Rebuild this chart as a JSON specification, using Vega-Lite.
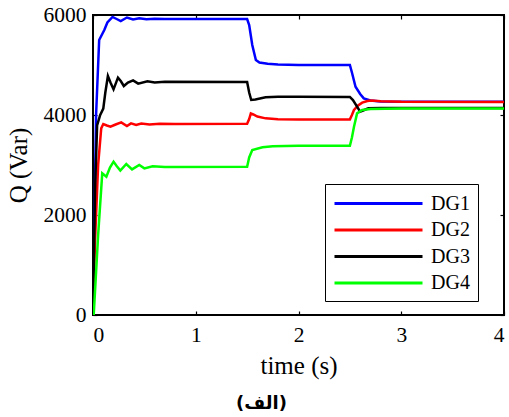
{
  "$schema": "https://vega.github.io/schema/vega-lite/v6.json",
  "width": 411,
  "height": 300,
  "autosize": {"type": "none"},
  "padding": {"left": 93, "top": 15, "right": 5, "bottom": 102},
  "background": "white",
  "config": {
    "view": {"stroke": "black", "strokeWidth": 2},
    "font": "Liberation Serif",
    "axis": {
      "grid": false,
      "domain": false,
      "tickColor": "black",
      "tickWidth": 1.2,
      "tickSize": -4,
      "labelFont": "Liberation Serif",
      "labelFontSize": 21.5,
      "labelColor": "black",
      "format": "d",
      "titleFont": "Liberation Serif",
      "titleFontSize": 25,
      "titleFontWeight": "normal",
      "titleColor": "black"
    }
  },
  "title": {
    "text": "(الف)",
    "orient": "bottom",
    "anchor": "middle",
    "frame": "group",
    "dx": -37,
    "offset": 16,
    "font": "DejaVu Sans",
    "fontSize": 18,
    "fontWeight": "bold",
    "color": "black"
  },
  "data": {
    "values": [
      {"t": 0, "q": 0, "s": "DG1"},
      {"t": 0.03, "q": 4000, "s": "DG1"},
      {"t": 0.06, "q": 5500, "s": "DG1"},
      {"t": 0.09, "q": 5620, "s": "DG1"},
      {"t": 0.11, "q": 5700, "s": "DG1"},
      {"t": 0.14, "q": 5850, "s": "DG1"},
      {"t": 0.19, "q": 5960, "s": "DG1"},
      {"t": 0.23, "q": 5920, "s": "DG1"},
      {"t": 0.27, "q": 5880, "s": "DG1"},
      {"t": 0.33, "q": 5950, "s": "DG1"},
      {"t": 0.39, "q": 5910, "s": "DG1"},
      {"t": 0.45, "q": 5935, "s": "DG1"},
      {"t": 0.52, "q": 5915, "s": "DG1"},
      {"t": 0.6, "q": 5925, "s": "DG1"},
      {"t": 0.7, "q": 5918, "s": "DG1"},
      {"t": 1.5, "q": 5920, "s": "DG1"},
      {"t": 1.52, "q": 5800, "s": "DG1"},
      {"t": 1.55, "q": 5400, "s": "DG1"},
      {"t": 1.585, "q": 5100, "s": "DG1"},
      {"t": 1.62, "q": 5050, "s": "DG1"},
      {"t": 1.7, "q": 5025, "s": "DG1"},
      {"t": 1.8, "q": 5010, "s": "DG1"},
      {"t": 2.0, "q": 5000, "s": "DG1"},
      {"t": 2.5, "q": 5000, "s": "DG1"},
      {"t": 2.52, "q": 4850, "s": "DG1"},
      {"t": 2.555, "q": 4566, "s": "DG1"},
      {"t": 2.6, "q": 4420, "s": "DG1"},
      {"t": 2.635, "q": 4333, "s": "DG1"},
      {"t": 2.7, "q": 4290, "s": "DG1"},
      {"t": 2.8, "q": 4270, "s": "DG1"},
      {"t": 3.0, "q": 4265, "s": "DG1"},
      {"t": 4.0, "q": 4265, "s": "DG1"},

      {"t": 0, "q": 0, "s": "DG2"},
      {"t": 0.02, "q": 1500, "s": "DG2"},
      {"t": 0.05, "q": 3000, "s": "DG2"},
      {"t": 0.08, "q": 3733, "s": "DG2"},
      {"t": 0.1, "q": 3820, "s": "DG2"},
      {"t": 0.135, "q": 3790, "s": "DG2"},
      {"t": 0.17, "q": 3767, "s": "DG2"},
      {"t": 0.22, "q": 3810, "s": "DG2"},
      {"t": 0.275, "q": 3853, "s": "DG2"},
      {"t": 0.33, "q": 3780, "s": "DG2"},
      {"t": 0.37, "q": 3833, "s": "DG2"},
      {"t": 0.42, "q": 3800, "s": "DG2"},
      {"t": 0.47, "q": 3830, "s": "DG2"},
      {"t": 0.55, "q": 3812, "s": "DG2"},
      {"t": 0.65, "q": 3825, "s": "DG2"},
      {"t": 0.8, "q": 3820, "s": "DG2"},
      {"t": 1.5, "q": 3825, "s": "DG2"},
      {"t": 1.52, "q": 3920, "s": "DG2"},
      {"t": 1.536, "q": 4030, "s": "DG2"},
      {"t": 1.56, "q": 4010, "s": "DG2"},
      {"t": 1.6, "q": 3970, "s": "DG2"},
      {"t": 1.68, "q": 3933, "s": "DG2"},
      {"t": 1.8, "q": 3915, "s": "DG2"},
      {"t": 2.0, "q": 3912, "s": "DG2"},
      {"t": 2.5, "q": 3912, "s": "DG2"},
      {"t": 2.52, "q": 4000, "s": "DG2"},
      {"t": 2.54, "q": 4100, "s": "DG2"},
      {"t": 2.58, "q": 4190, "s": "DG2"},
      {"t": 2.62, "q": 4247, "s": "DG2"},
      {"t": 2.67, "q": 4280, "s": "DG2"},
      {"t": 2.71, "q": 4290, "s": "DG2"},
      {"t": 2.8, "q": 4275, "s": "DG2"},
      {"t": 3.0, "q": 4265, "s": "DG2"},
      {"t": 4.0, "q": 4262, "s": "DG2"},

      {"t": 0, "q": 0, "s": "DG3"},
      {"t": 0.02, "q": 2500, "s": "DG3"},
      {"t": 0.04, "q": 3793, "s": "DG3"},
      {"t": 0.07, "q": 4000, "s": "DG3"},
      {"t": 0.1, "q": 4127, "s": "DG3"},
      {"t": 0.12, "q": 4450, "s": "DG3"},
      {"t": 0.145, "q": 4780, "s": "DG3"},
      {"t": 0.17, "q": 4650, "s": "DG3"},
      {"t": 0.2, "q": 4513, "s": "DG3"},
      {"t": 0.243, "q": 4747, "s": "DG3"},
      {"t": 0.27, "q": 4680, "s": "DG3"},
      {"t": 0.3, "q": 4580, "s": "DG3"},
      {"t": 0.34, "q": 4650, "s": "DG3"},
      {"t": 0.39, "q": 4693, "s": "DG3"},
      {"t": 0.44, "q": 4627, "s": "DG3"},
      {"t": 0.53, "q": 4673, "s": "DG3"},
      {"t": 0.6, "q": 4650, "s": "DG3"},
      {"t": 0.7, "q": 4665, "s": "DG3"},
      {"t": 1.5, "q": 4660, "s": "DG3"},
      {"t": 1.52, "q": 4450, "s": "DG3"},
      {"t": 1.54, "q": 4300, "s": "DG3"},
      {"t": 1.58, "q": 4310, "s": "DG3"},
      {"t": 1.68, "q": 4353, "s": "DG3"},
      {"t": 1.8, "q": 4365, "s": "DG3"},
      {"t": 2.0, "q": 4365, "s": "DG3"},
      {"t": 2.5, "q": 4362, "s": "DG3"},
      {"t": 2.53, "q": 4300, "s": "DG3"},
      {"t": 2.57, "q": 4167, "s": "DG3"},
      {"t": 2.6, "q": 4067, "s": "DG3"},
      {"t": 2.64, "q": 4100, "s": "DG3"},
      {"t": 2.68, "q": 4133, "s": "DG3"},
      {"t": 2.8, "q": 4140, "s": "DG3"},
      {"t": 3.0, "q": 4140, "s": "DG3"},
      {"t": 4.0, "q": 4140, "s": "DG3"},

      {"t": 0, "q": 0, "s": "DG4"},
      {"t": 0.007, "q": 0, "s": "DG4"},
      {"t": 0.05, "q": 1600, "s": "DG4"},
      {"t": 0.09, "q": 2833, "s": "DG4"},
      {"t": 0.13, "q": 2767, "s": "DG4"},
      {"t": 0.165, "q": 2950, "s": "DG4"},
      {"t": 0.2, "q": 3067, "s": "DG4"},
      {"t": 0.23, "q": 2980, "s": "DG4"},
      {"t": 0.266, "q": 2887, "s": "DG4"},
      {"t": 0.324, "q": 3020, "s": "DG4"},
      {"t": 0.38, "q": 2913, "s": "DG4"},
      {"t": 0.45, "q": 3000, "s": "DG4"},
      {"t": 0.5, "q": 2933, "s": "DG4"},
      {"t": 0.58, "q": 2975, "s": "DG4"},
      {"t": 0.7, "q": 2960, "s": "DG4"},
      {"t": 1.5, "q": 2965, "s": "DG4"},
      {"t": 1.52, "q": 3150, "s": "DG4"},
      {"t": 1.55, "q": 3300, "s": "DG4"},
      {"t": 1.65, "q": 3353, "s": "DG4"},
      {"t": 1.75, "q": 3375, "s": "DG4"},
      {"t": 2.0, "q": 3385, "s": "DG4"},
      {"t": 2.5, "q": 3385, "s": "DG4"},
      {"t": 2.52, "q": 3550, "s": "DG4"},
      {"t": 2.54, "q": 3767, "s": "DG4"},
      {"t": 2.57, "q": 4033, "s": "DG4"},
      {"t": 2.62, "q": 4100, "s": "DG4"},
      {"t": 2.7, "q": 4120, "s": "DG4"},
      {"t": 3.0, "q": 4128, "s": "DG4"},
      {"t": 4.0, "q": 4128, "s": "DG4"}
    ]
  },
  "layer": [
    {
      "mark": {"type": "line", "strokeWidth": 2.5, "clip": true},
      "encoding": {
        "x": {
          "field": "t", "type": "quantitative",
          "scale": {"domain": [0, 4], "nice": false, "zero": false},
          "axis": {"title": "time (s)", "values": [0, 1, 2, 3, 4], "labelPadding": 13, "titlePadding": 8}
        },
        "y": {
          "field": "q", "type": "quantitative",
          "scale": {"domain": [0, 6000], "nice": false},
          "axis": {"title": "Q (Var)", "values": [0, 2000, 4000, 6000], "labelPadding": 11, "titlePadding": 12}
        },
        "color": {
          "field": "s", "type": "nominal",
          "scale": {"domain": ["DG1", "DG2", "DG3", "DG4"], "range": ["#0000ff", "#ff0000", "#000000", "#00ff00"]},
          "legend": {
            "title": null,
            "orient": "none",
            "legendX": 232,
            "legendY": 169,
            "symbolType": "M-4.4,0H4.4",
            "symbolSize": 400,
            "symbolOffset": 34,
            "symbolStrokeWidth": 3,
            "labelFont": "Liberation Serif",
            "labelFontSize": 20,
            "labelColor": "black",
            "labelOffset": 41,
            "strokeColor": "black",
            "fillColor": "white",
            "padding": 8,
            "rowPadding": 4.5
          }
        }
      }
    },
    {
      "mark": {"type": "line", "opacity": 0},
      "encoding": {
        "x": {
          "field": "t", "type": "quantitative",
          "axis": {"orient": "top", "labels": false, "title": null, "values": [0, 1, 2, 3, 4]}
        },
        "y": {
          "field": "q", "type": "quantitative",
          "axis": {"orient": "right", "labels": false, "title": null, "values": [0, 2000, 4000, 6000]}
        },
        "detail": {"field": "s"}
      }
    }
  ],
  "resolve": {"axis": {"x": "independent", "y": "independent"}}
}
